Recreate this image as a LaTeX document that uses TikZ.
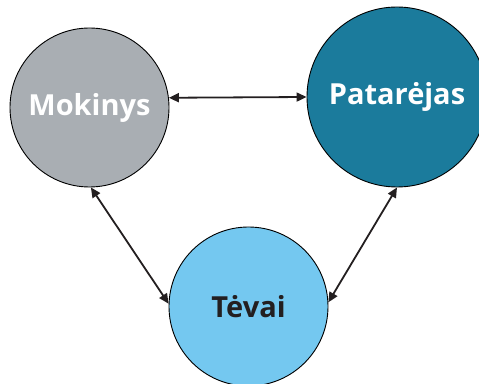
\documentclass[tikz,border=0pt]{standalone}
\usepackage{fontspec}
\setmainfont{Open Sans}
\usetikzlibrary{arrows.meta}
\definecolor{mokgray}{RGB}{169,174,179}
\definecolor{patteal}{RGB}{27,123,156}
\definecolor{tevblue}{RGB}{116,200,240}
\definecolor{txtblack}{RGB}{35,31,32}
\begin{document}
\begin{tikzpicture}[x=1pt,y=1pt,
  person/.style = {circle, draw=black, line width=0.9pt, inner sep=0pt,
                   font=\fontsize{29}{32}\selectfont\bfseries},
  link/.style   = {line width=1.8pt, draw=txtblack,
                   {Triangle[length=10pt,width=9pt]}-{Triangle[length=10pt,width=9pt]}}]
\useasboundingbox (0,0) rectangle (479,383);
% the three circles
\node[person, fill=mokgray, text=white, minimum size=159pt]
  (mokinys) at (89.5,275.5) {Mokinys};
\node[person, fill=patteal, text=white, minimum size=180pt]
  (patarejas) at (397,286) {Patarėjas};
\node[person, fill=tevblue, text=txtblack, minimum size=159pt]
  (tevai) at (248.5,76.5) {Tėvai};
% links between them
\draw[link] (mokinys.7)    -- (patarejas.180);
\draw[link] (mokinys.-89)  -- (tevai.178);
\draw[link] (patarejas.-90) -- (tevai.3);
\end{tikzpicture}
\end{document}
